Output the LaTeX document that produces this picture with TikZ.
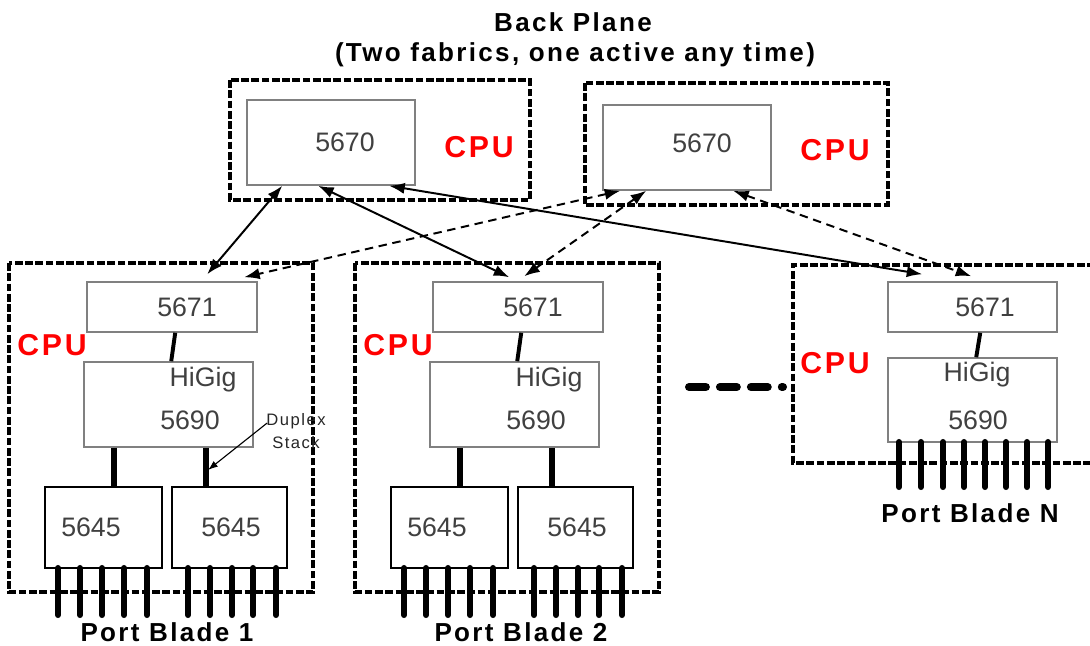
\documentclass[tikz,border=0pt]{standalone}
\usepackage{fontspec}
\setmainfont{Liberation Sans}
\newfontfamily\widefont[LetterSpace=9]{Liberation Sans}
\usetikzlibrary{arrows.meta,calc}
\begin{document}
\begin{tikzpicture}[x=0.025cm,y=-0.025cm,every node/.style={inner sep=0pt},
  >={Latex[length=11pt,width=8pt]},
  box/.style 2 args={draw=black!50,line width=1.1pt,minimum width=#1*0.025cm,minimum height=#2*0.025cm},
  fence/.style={line width=2.2pt,dash pattern=on 5.5pt off 1.8pt},
  chip/.style={font=\fontsize{19}{22}\selectfont,text=black!75},
  cpu/.style={font=\widefont\bfseries\fontsize{21.5}{24}\selectfont,text=red},
  title/.style={font=\widefont\bfseries\fontsize{18.5}{20}\selectfont},
  pin/.style={line width=4.3pt,line cap=round},
  link/.style={line width=4.3pt},
  fab/.style={<->,line width=1.4pt},
  fabdash/.style={fab,dash pattern=on 6pt off 4pt}]
\useasboundingbox (0,0) rectangle (1090,645);
% back plane
\node[title] (bptitle) at (573,22) {Back Plane};
\node[title] (bpsub) at (575,55) {(Two fabrics, one active any time)};
\draw[fence] (230,80) rectangle (530,200);
\draw[fence] (585,83) rectangle (888,205);
\node[box={168}{85}] (fa) at (331,142.5) {}; \node[chip] (fatxt) at (345,142) {5670}; \node[cpu] (facpu) at (479,147) {CPU};
\node[box={168}{85}] (fb) at (687,147.5) {}; \node[chip] (fbtxt) at (702,143) {5670}; \node[cpu] (fbcpu) at (835,150) {CPU};
% port blades 1 and 2
\foreach \b/\dx in {1/0,2/346}{
\begin{scope}[shift={(\dx,0)}]
\draw[fence] (9,263) rectangle (313,592);
\node[box={170}{50}] (c\b) at (172,307) {}; \node[chip] (ctxt\b) at (187,307) {5671};
\node[cpu] (cpu\b) at (52,345) {CPU};
\node[box={169}{85}] (h\b) at (168.5,404.5) {};
\node[chip] (hg\b) at (203,380) {HiGig}; \node[chip] (htxt\b) at (190,420) {5690};
\node[box={117}{81},draw=black] (pa\b) at (103.5,527.5) {}; \node[chip] (patxt\b) at (91,527) {5645};
\node[box={115}{81},draw=black] (pb\b) at (229.5,527.5) {}; \node[chip] (pbtxt\b) at (231,527) {5645};
\draw[line width=2.8pt] ($(c\b.south west)+(89,0)$) -- ($(h\b.north west)+(88,0)$);
\draw[link] ($(h\b.south west)+(31,0)$) -- ($(pa\b.north west)+(70,0)$);
\draw[link] ($(h\b.south west)+(123,0)$) -- ($(pb\b.north west)+(35,0)$);
\foreach \p in {58,80,102,124,147,188,210,232,253,276} \draw[pin] (\p,568) -- (\p,615);
\end{scope}}
\node[title] (pbl1) at (167,632) {Port Blade 1};
\node[title] (pbl2) at (521,632) {Port Blade 2};
% duplex stack
\node[font=\widefont\fontsize{11.8}{16.4}\selectfont,align=center,text=black!85] (dup) at (296,431) {Duplex\\Stack};
\coordinate (dtip) at (208,470);
\draw[->,line width=0.8pt,>={Latex[length=7pt,width=5pt]}] ($(dup.west)+(1,-8)$) -- (dtip);
% port blade N
\draw[fence] (1095,265) -- (793,265) -- (793,463) -- (1095,463);
\node[box={169}{50}] (cN) at (972.5,307) {}; \node[chip] (ctxtN) at (985,307) {5671};
\node[cpu] (cpuN) at (835,363) {CPU};
\node[box={169}{84}] (hN) at (972.5,400) {};
\node[chip] (hgN) at (977,375) {HiGig}; \node[chip] (htxtN) at (978,420) {5690};
\draw[line width=2.8pt] ($(cN.south west)+(93,0)$) -- ($(hN.north west)+(89,0)$);
\foreach \p in {899,921,943,964,985,1006,1027,1048} \draw[pin] (\p,442) -- (\p,487);
\node[title] (pblN) at (970,513) {Port Blade N};
\draw[line width=5.7pt,line cap=round,dash pattern=on 12pt off 10pt] (689,387) -- (783,387);
% fabric links
\draw[fab] ($(fa.south west)+(36,0)$) -- ($(c1.north west)+(121,-7)$);
\draw[fab] ($(fa.south west)+(72,0)$) -- ($(c2.north west)+(77,-4)$);
\draw[fab] ($(fa.south west)+(143,0)$) -- ($(cN.north west)+(35,-7)$);
\draw[fabdash] ($(fb.south west)+(18,0)$) -- ($(c1.north west)+(158,-4)$);
\draw[fabdash] ($(fb.south west)+(44,0)$) -- ($(c2.north west)+(92,-5)$);
\draw[fabdash] ($(fb.south west)+(131,0)$) -- ($(cN.north west)+(84,-5)$);
\end{tikzpicture}
\end{document}
